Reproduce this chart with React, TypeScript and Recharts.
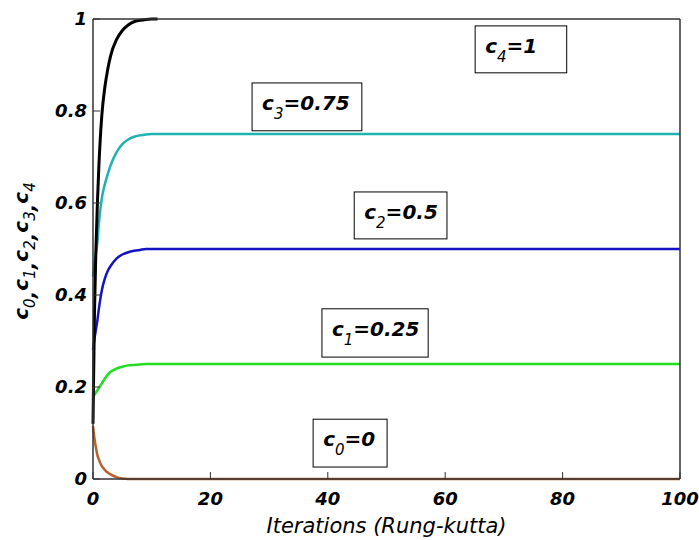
import React from "react";
import {
  LineChart,
  Line,
  XAxis,
  YAxis,
  ReferenceArea,
} from "recharts";

// iteration grid shared by every curve
const iterations = [0, 0.25, 0.5, 0.75, 1, 1.5, 2, 2.5, 3, 4, 5, 6, 7, 8, 9, 10, 11, 12, 15, 20, 40, 70, 100];

const c4 = [0.12, 0.36, 0.5, 0.6, 0.68, 0.79, 0.85, 0.89, 0.92, 0.955, 0.975, 0.987, 0.994, 0.997, 0.999, 1, 1, null, null, null, null, null, null];
const c3 = [0.44, 0.47, 0.49, 0.515, 0.555, 0.61, 0.64, 0.662, 0.682, 0.71, 0.728, 0.738, 0.744, 0.747, 0.749, 0.75, 0.75, 0.75, 0.75, 0.75, 0.75, 0.75, 0.75];
const c2 = [0.28, 0.305, 0.325, 0.345, 0.37, 0.41, 0.435, 0.452, 0.463, 0.479, 0.488, 0.493, 0.496, 0.498, 0.5, 0.5, 0.5, 0.5, 0.5, 0.5, 0.5, 0.5, 0.5];
const c1 = [0.18, 0.183, 0.188, 0.193, 0.198, 0.208, 0.218, 0.227, 0.233, 0.24, 0.244, 0.247, 0.248, 0.249, 0.25, 0.25, 0.25, 0.25, 0.25, 0.25, 0.25, 0.25, 0.25];
const c0 = [0.115, 0.088, 0.068, 0.052, 0.042, 0.028, 0.02, 0.014, 0.01, 0.004, 0.001, 0, 0, 0, 0, 0, 0, 0, 0, 0, 0, 0, 0];

const xTicks = [0, 20, 40, 60, 80, 100];
const yTicks = [0, 0.2, 0.4, 0.6, 0.8, 1];

// boxed annotations: subscript, value
const noteSub = ["4", "3", "2", "1", "0"];
const noteValue = ["1", "0.75", "0.5", "0.25", "0"];
// box extents in data units
const noteX = [[65.1, 80.7], [27.1, 45.8], [44.5, 60.3], [39.0, 57.1], [37.5, 50.1]];
const noteY = [[0.883, 0.985], [0.757, 0.861], [0.522, 0.624], [0.265, 0.37], [0.026, 0.13]];

const data = iterations.map((it, i) => ({
  it,
  c0: c0[i],
  c1: c1[i],
  c2: c2[i],
  c3: c3[i],
  c4: c4[i],
}));

const FONT = "'DejaVu Sans', sans-serif";
const AXIS = "#333";

const tickStyle = {
  fontFamily: FONT,
  fontSize: 18,
  fontWeight: "bold",
  fontStyle: "italic",
  fill: "#000",
};

function noteShape(sub: string, val: string) {
  return (p: any) => (
    <g>
      <rect x={p.x} y={p.y} width={p.width} height={p.height} fill="#fff" stroke="#000" strokeWidth={1} />
      <text x={p.x + 10} y={p.y + 27} fontFamily={FONT} fontSize={20} fontWeight="bold" fontStyle="italic" fill="#000">
        <tspan>c</tspan>
        <tspan dy={9} fontSize={15} fontWeight="normal">{sub}</tspan>
        <tspan dy={-9}>={val}</tspan>
      </text>
    </g>
  );
}

function YTitle(props: any) {
  const vb = props.viewBox;
  const cx = vb.x + 28;
  const cy = vb.y + vb.height / 2 + 2;
  const subs = ["0", "1", "2", "3", "4"];
  return (
    <text
      x={cx}
      y={cy}
      transform={`rotate(-90 ${cx} ${cy})`}
      textAnchor="middle"
      fontFamily={FONT}
      fontSize={20}
      fontWeight="bold"
      fontStyle="italic"
      fill="#000"
    >
      {subs.map((s, i) => (
        <React.Fragment key={s}>
          <tspan dy={i === 0 ? 0 : -7}>c</tspan>
          <tspan dy={7} fontSize={15} fontWeight="normal">{s}</tspan>
          {i < subs.length - 1 && <tspan>,</tspan>}
        </React.Fragment>
      ))}
    </text>
  );
}

function XTitle(props: any) {
  const vb = props.viewBox;
  return (
    <text
      x={vb.x + vb.width / 2}
      y={vb.y + 54}
      textAnchor="middle"
      fontFamily={FONT}
      fontSize={21}
      fontStyle="italic"
      fill="#000"
    >
      Iterations (Rung-kutta)
    </text>
  );
}

export default function App() {
  return (
    <div style={{ position: "absolute", left: 0, top: 0, background: "#fff" }}>
      <LineChart
        width={699}
        height={540}
        data={data}
        margin={{ top: 18, right: 18, left: 0, bottom: 0 }}
      >
        <XAxis
          dataKey="it"
          type="number"
          domain={[0, 100]}
          ticks={xTicks}
          height={61}
          tickSize={-7}
          tickMargin={20}
          tick={tickStyle}
          stroke={AXIS}
          axisLine={{ stroke: AXIS, strokeWidth: 1.5 }}
          tickLine={{ stroke: AXIS }}
          label={<XTitle />}
        />
        <XAxis
          xAxisId="top"
          orientation="top"
          dataKey="it"
          type="number"
          domain={[0, 100]}
          ticks={xTicks}
          height={1}
          tickSize={-7}
          tick={false}
          stroke={AXIS}
          axisLine={{ stroke: AXIS, strokeWidth: 1.5 }}
          tickLine={{ stroke: AXIS }}
        />
        <YAxis
          type="number"
          domain={[0, 1]}
          ticks={yTicks}
          width={93}
          tickSize={-7}
          tickMargin={13}
          tick={tickStyle}
          stroke={AXIS}
          axisLine={{ stroke: AXIS, strokeWidth: 1.5 }}
          tickLine={{ stroke: AXIS }}
          label={<YTitle />}
        />
        <YAxis
          yAxisId="right"
          orientation="right"
          type="number"
          domain={[0, 1]}
          ticks={yTicks}
          width={1}
          tickSize={-7}
          tick={false}
          stroke={AXIS}
          axisLine={{ stroke: AXIS, strokeWidth: 1.5 }}
          tickLine={{ stroke: AXIS }}
        />
        <Line dataKey="c3" type="monotone" stroke="#20b2b2" strokeWidth={2.5} dot={false} activeDot={false} isAnimationActive={false} />
        <Line dataKey="c2" type="monotone" stroke="#1414c0" strokeWidth={2.5} dot={false} activeDot={false} isAnimationActive={false} />
        <Line dataKey="c1" type="monotone" stroke="#22dd22" strokeWidth={2.5} dot={false} activeDot={false} isAnimationActive={false} />
        <Line dataKey="c0" type="monotone" stroke="#b8602e" strokeWidth={2.5} dot={false} activeDot={false} isAnimationActive={false} />
        <Line dataKey="c4" type="monotone" stroke="#000" strokeWidth={3} dot={false} activeDot={false} isAnimationActive={false} />
        {noteSub.map((s, i) => (
          <ReferenceArea
            key={s}
            x1={noteX[i][0]}
            x2={noteX[i][1]}
            y1={noteY[i][0]}
            y2={noteY[i][1]}
            shape={noteShape(s, noteValue[i])}
          />
        ))}
      </LineChart>
    </div>
  );
}
